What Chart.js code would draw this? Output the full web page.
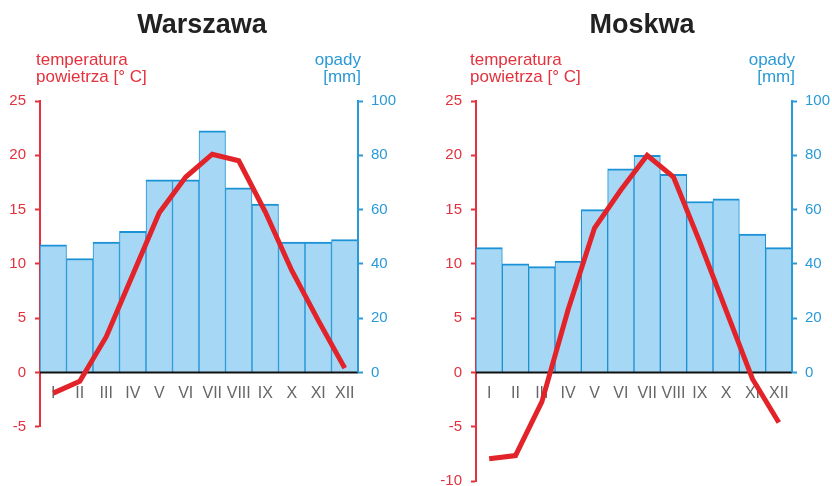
<!DOCTYPE html>
<html>
<head>
<meta charset="utf-8">
<script src="https://cdn.jsdelivr.net/npm/chart.js@4"></script>
<style>
  body { margin: 0; background: #fff; font-family: "Liberation Sans", Arial, sans-serif; }
  .panel { position: absolute; top: 0; width: 416px; height: 486px; }
  .panel canvas { position: absolute; left: 0; top: 0; }
  .city { position: absolute; top: 11px; width: 300px; text-align: center; font-weight: bold; font-size: 27px; line-height: 27px; color: #222; }
  .ttl { position: absolute; top: 51px; font-size: 17px; line-height: 17px; white-space: nowrap; }
  .red { color: #e3313d; }
  .blue { color: #2a9ad6; text-align: right; }
</style>
</head>
<body>
<div class="panel" style="left:0">
  <canvas id="warszawa" width="416" height="486"></canvas>
  <div class="city" style="left:52px">Warszawa</div>
  <div class="ttl red" style="left:36px">temperatura<br>powietrza [° C]</div>
  <div class="ttl blue" style="right:55px">opady<br>[mm]</div>
</div>
<div class="panel" style="left:416px">
  <canvas id="moskwa" width="416" height="486"></canvas>
  <div class="city" style="left:76px">Moskwa</div>
  <div class="ttl red" style="left:54px">temperatura<br>powietrza [° C]</div>
  <div class="ttl blue" style="right:37px">opady<br>[mm]</div>
</div>
<script>
// miesiace
var miesiace = ["I", "II", "III", "IV", "V", "VI", "VII", "VIII", "IX", "X", "XI", "XII"];

// Warszawa: temperatura [°C] i opady [mm]
var tempWarszawa = [-1.9, -0.8, 3.3, 9.0, 14.7, 18.0, 20.1, 19.5, 14.8, 9.4, 4.8, 0.4];
var opadyWarszawa = [47, 42, 48, 52, 71, 71, 89, 68, 62, 48, 48, 49];

// Moskwa: temperatura [°C] i opady [mm]
var tempMoskwa = [-7.95, -7.65, -2.7, 5.8, 13.3, 16.8, 20.0, 18.0, 12.0, 5.7, -0.6, -4.6];
var opadyMoskwa = [46, 40, 39, 41, 60, 75, 80, 73, 63, 64, 51, 46];

var rosso = "#e3313d";
var blu = "#2a9ad6";

// linia zera i prawa os opadow (tylko od 0 do 100)
var osiePlugin = {
  id: "osie",
  afterDatasetDraw: function (chart, args) {
    if (args.index !== 1) return;
    var ctx = chart.ctx;
    var area = chart.chartArea;
    var y0 = chart.scales.y.getPixelForValue(0);
    ctx.save();
    ctx.strokeStyle = "#111";
    ctx.lineWidth = 2;
    ctx.beginPath();
    ctx.moveTo(area.left, y0);
    ctx.lineTo(area.right, y0);
    ctx.stroke();
    ctx.strokeStyle = blu;
    ctx.beginPath();
    ctx.moveTo(area.right, chart.scales.y2.getPixelForValue(0));
    ctx.lineTo(area.right, chart.scales.y2.getPixelForValue(100) - 1);
    ctx.stroke();
    ctx.restore();
  },
};

function wykres(id, temp, opady, tMin, lewa, prawa) {
  new Chart(id, {
    data: {
      labels: miesiace,
      datasets: [
        {
          type: "line",
          data: temp,
          yAxisID: "y",
          borderColor: "#e2242a",
          borderWidth: 5,
          pointRadius: 0,
          tension: 0,
          order: 0,
        },
        {
          type: "bar",
          data: opady,
          yAxisID: "y2",
          backgroundColor: "#a6d8f5",
          borderColor: "#1b92d6",
          borderWidth: { top: 2, left: 1, right: 1, bottom: 0 },
          borderSkipped: false,
          categoryPercentage: 1,
          barPercentage: 1,
          order: 1,
        },
      ],
    },
    options: {
      responsive: false,
      animation: false,
      layout: { padding: { top: 101, bottom: 486 - 101 - (25 - tMin) * 10.86, left: 0, right: 0 } },
      plugins: { legend: { display: false }, tooltip: { enabled: false } },
      scales: {
        x: {
          position: { y: 0 },
          grid: { display: false, drawTicks: false },
          border: { display: false },
          ticks: {
            color: "#666",
            font: { family: "Liberation Sans", size: 16 },
            padding: 11,
            autoSkip: false,
            maxRotation: 0,
            minRotation: 0,
          },
        },
        y: {
          position: "left",
          min: tMin,
          max: 25,
          ticks: { stepSize: 5, color: rosso, font: { family: "Liberation Sans", size: 15 }, padding: 9 },
          grid: { drawOnChartArea: false, tickLength: 5, tickWidth: 2, color: rosso },
          border: { color: rosso, width: 2 },
          afterFit: function (s) {
            s.width = lewa;
            s.paddingTop = 0;
            s.paddingBottom = 0;
          },
        },
        y2: {
          position: "right",
          min: tMin * 4,
          max: 100,
          ticks: {
            stepSize: 20,
            color: blu,
            font: { family: "Liberation Sans", size: 15 },
            padding: 8,
            callback: function (v) {
              return v < 0 ? "" : v;
            },
          },
          grid: {
            drawOnChartArea: false,
            tickLength: 5,
            tickWidth: 2,
            color: function (c) {
              return c.tick && c.tick.value < 0 ? "rgba(0,0,0,0)" : blu;
            },
          },
          border: { display: false },
          afterFit: function (s) {
            s.width = prawa;
            s.paddingTop = 0;
            s.paddingBottom = 0;
          },
        },
      },
    },
    plugins: [osiePlugin],
  });
}

wykres("warszawa", tempWarszawa, opadyWarszawa, -5, 40, 58);
wykres("moskwa", tempMoskwa, opadyMoskwa, -10, 60, 40);
</script>
</body>
</html>
